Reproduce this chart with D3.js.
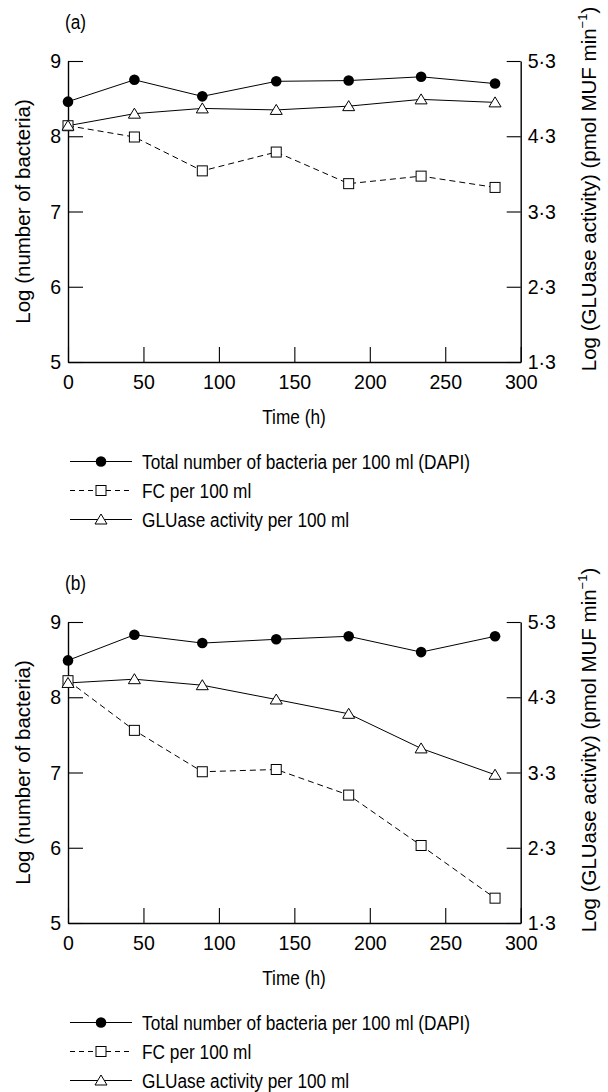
<!DOCTYPE html>
<html><head><meta charset="utf-8">
<script src="https://cdn.jsdelivr.net/npm/d3@7"></script>
<style>
html,body{margin:0;padding:0;background:#fff;}
svg text{font-family:"Liberation Sans",Arial,Helvetica,sans-serif;fill:#000;}
</style></head>
<body>
<svg id="chart" width="608" height="1092"></svg>
<script>
// ---- data ----
const times = [0, 44, 89, 138, 186, 234, 283];
const xTicks = [0, 50, 100, 150, 200, 250, 300];
const leftTicks = [5, 6, 7, 8, 9];
const rightTicks = [1.3, 2.3, 3.3, 4.3, 5.3];
const panelLabels = ["(a)", "(b)"];
const dapiA = [8.46, 8.75, 8.53, 8.73, 8.74, 8.79, 8.70];
const fcA   = [8.14, 7.99, 7.54, 7.79, 7.37, 7.47, 7.32];
const gluA  = [4.44, 4.60, 4.67, 4.65, 4.70, 4.79, 4.75];
const dapiB = [8.49, 8.83, 8.72, 8.77, 8.81, 8.60, 8.81];
const fcB   = [8.22, 7.56, 7.01, 7.04, 6.70, 6.03, 5.33];
const gluB  = [4.49, 4.54, 4.46, 4.27, 4.08, 3.62, 3.27];
const legendLabels = ["Total number of bacteria per 100 ml (DAPI)", "FC per 100 ml", "GLUase activity per 100 ml"];
const xTitle = "Time (h)";
const yLeftTitle = "Log (number of bacteria)";

const svg = d3.select("#chart");
const FS = 19.5;      // glyph height of horizontal text
const SQUEEZE = 0.885; // horizontal compression of horizontal text
const FST = 21;       // tick labels
const SQT = 0.93;
const FSR = 20.5;     // rotated titles
const x = d3.scaleLinear().domain([0, 300]).range([68, 520.7]);
const triPath = "M0,-5.5L6,4.5L-6,4.5Z";

function marker(g, type, cx, cy) {
  if (type === "circle") {
    g.append("circle").attr("cx", cx).attr("cy", cy).attr("r", 5.3).attr("fill", "#000");
  } else if (type === "square") {
    g.append("rect").attr("x", cx - 5).attr("y", cy - 5).attr("width", 10).attr("height", 10)
      .attr("fill", "#fff").attr("stroke", "#000").attr("stroke-width", 1);
  } else {
    g.append("path").attr("d", triPath).attr("transform", `translate(${cx},${cy})`)
      .attr("fill", "#fff").attr("stroke", "#000").attr("stroke-width", 1);
  }
}

function panel(off, label, dapi, fc, glu) {
  const g = svg.append("g");
  const yL = d3.scaleLinear().domain([5, 9]).range([362 + off, 61 + off]);
  const yR = d3.scaleLinear().domain([1.3, 5.3]).range([362 + off, 61 + off]);

  g.append("text").attr("class", "h").attr("x", 65).attr("y", 29 + off).text(label);

  const ax = g.append("g").attr("transform", `translate(0,${362 + off})`)
    .call(d3.axisBottom(x).tickValues(xTicks).tickSizeInner(-15).tickSizeOuter(0).tickPadding(12));
  const ayl = g.append("g").attr("transform", `translate(68,0)`)
    .call(d3.axisLeft(yL).tickValues(leftTicks).tickSizeInner(-15).tickSizeOuter(0).tickPadding(7).tickFormat(d3.format("d")));
  const ayr = g.append("g").attr("transform", `translate(520.7,0)`)
    .call(d3.axisRight(yR).tickValues(rightTicks).tickSizeInner(-14).tickSizeOuter(0).tickPadding(7)
      .tickFormat(d => d.toFixed(1).replace(".", "\u00B7")));
  [ax, ayl, ayr].forEach(a => {
    a.attr("font-size", null).attr("font-family", null);
    a.select(".domain").attr("stroke", "#000").attr("stroke-width", 1.4);
    a.selectAll(".tick line").attr("stroke", "#000").attr("stroke-width", 1.1);
    a.selectAll("text").attr("class", "tk").attr("fill", "#000");
  });

  g.append("text").attr("class", "h").attr("x", 294).attr("y", 424 + off).attr("text-anchor", "middle").text(xTitle);
  g.append("text").attr("transform", `translate(30,${211.5 + off}) rotate(-90)`).attr("text-anchor", "middle")
    .attr("font-size", FSR).text(yLeftTitle);
  const rt = g.append("text").attr("transform", `translate(596,${189 + off}) rotate(-90)`).attr("text-anchor", "middle")
    .attr("font-size", FSR);
  rt.append("tspan").text("Log (GLUase activity) (pmol MUF min");
  rt.append("tspan").attr("font-size", 13).attr("dy", -9).text("\u22121");
  rt.append("tspan").attr("dy", 9).text(")");

  // lines
  const lineL = d3.line().x((d, i) => x(times[i])).y(d => yL(d));
  const lineR = d3.line().x((d, i) => x(times[i])).y(d => yR(d));
  g.append("path").attr("d", lineL(fc)).attr("fill", "none").attr("stroke", "#000").attr("stroke-width", 1).attr("stroke-dasharray", "6,4");
  g.append("path").attr("d", lineR(glu)).attr("fill", "none").attr("stroke", "#000").attr("stroke-width", 1);
  g.append("path").attr("d", lineL(dapi)).attr("fill", "none").attr("stroke", "#000").attr("stroke-width", 1);

  fc.forEach((v, i) => marker(g, "square", x(times[i]), yL(v)));
  glu.forEach((v, i) => marker(g, "triangle", x(times[i]), yR(v)));
  dapi.forEach((v, i) => marker(g, "circle", x(times[i]), yL(v)));

  // legend
  const rows = [461.5, 490.5, 519.5];
  const types = ["circle", "square", "triangle"];
  rows.forEach((ry, i) => {
    const cy = ry + off;
    const ln = g.append("line").attr("x1", 70).attr("x2", 132).attr("y1", cy).attr("y2", cy)
      .attr("stroke", "#000").attr("stroke-width", 1);
    if (i === 1) ln.attr("stroke-dasharray", "5,4");
    marker(g, types[i], 101, cy);
    g.append("text").attr("class", "h").attr("x", 142).attr("y", cy + 7).text(legendLabels[i]);
  });
}

panel(0, panelLabels[0], dapiA, fcA, gluA);
panel(561, panelLabels[1], dapiB, fcB, gluB);

// horizontal text: tall glyphs, slightly compressed width (as in the reference)
function squeeze(sel, fs, k) {
  sel.each(function () {
    const t = d3.select(this).attr("font-size", fs);
    const len = this.getComputedTextLength();
    t.attr("textLength", len * k).attr("lengthAdjust", "spacingAndGlyphs");
  });
}
squeeze(svg.selectAll("text.h"), FS, SQUEEZE);
squeeze(svg.selectAll("text.tk"), FST, SQT);
</script>
</body></html>
